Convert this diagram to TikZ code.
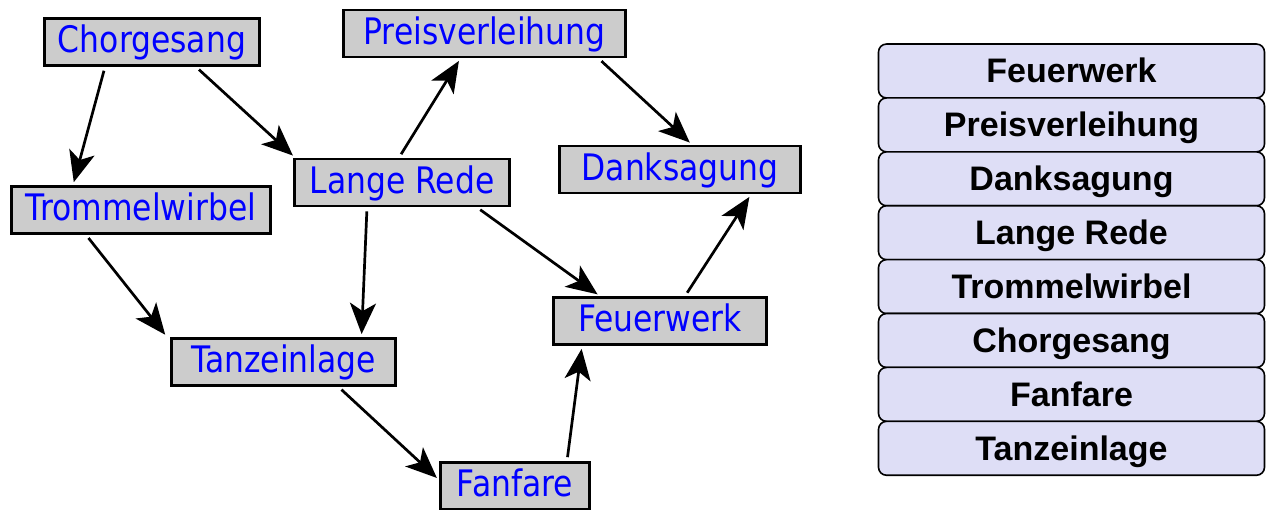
\documentclass[tikz,border=0pt]{standalone}
\usepackage{fontspec}
\usetikzlibrary{arrows.meta}
\newfontfamily\boxfont[FakeStretch=0.86]{DejaVu Sans}
\newfontfamily\rankfont{Liberation Sans}
\definecolor{boxgray}{RGB}{204,204,204}
\definecolor{boxblue}{RGB}{0,0,255}
\definecolor{ranklilac}{RGB}{222,222,246}

\begin{document}
\begin{tikzpicture}[x=1pt,y=-1pt,
  event/.style={draw,line width=2.8pt,fill=boxgray,text=boxblue,inner sep=0pt,
    minimum height=47pt,text height=27pt,text depth=5.4pt,
    font=\boxfont\fontsize{36.5}{40}\selectfont},
  before/.style={line width=2.7pt,-{Stealth[length=31pt,width=26pt,inset=8pt]},
    shorten <=4pt,shorten >=3pt},
  slot/.style={draw,line width=1.6pt,rounded corners=8pt,fill=ranklilac,
    minimum width=386pt,minimum height=53.9pt,inner sep=0pt,
    text height=24pt,text depth=0pt,
    font=\rankfont\bfseries\fontsize{34}{40}\selectfont}]

\useasboundingbox (0,0) rectangle (1266,510);

% the events
\node[event,minimum width=215pt] (chor) at (152,42) {Chorgesang};
\node[event,minimum width=282pt] (preis) at (484.5,33.5) {Preisverleihung};
\node[event,minimum width=259pt] (trom) at (141,210) {Trommelwirbel};
\node[event,minimum width=215pt] (lange) at (402,182.5) {Lange Rede};
\node[event,minimum width=241pt] (dank) at (680,169.5) {Danksagung};
\node[event,minimum width=213pt] (feuer) at (660,321) {Feuerwerk};
\node[event,minimum width=224pt] (tanz) at (283.5,362) {Tanzeinlage};
\node[event,minimum width=149pt] (fanf) at (515,486) {Fanfare};

% what has to come first
\draw[before] ([xshift=-47pt]chor.south) -- ([xshift=-68pt]trom.north);
\draw[before] ([xshift=44pt]chor.south) -- ([xshift=2pt]lange.north west);
\draw[before] ([xshift=-3pt]lange.north) -- ([xshift=-24pt]preis.south);
\draw[before] ([xshift=114pt]preis.south) -- ([xshift=12pt]dank.north);
\draw[before] ([xshift=25pt]feuer.north) -- ([xshift=71pt]dank.south);
\draw[before] ([xshift=75pt]lange.south) -- ([xshift=-60pt]feuer.north);
\draw[before] ([xshift=-55pt]trom.south) -- ([xshift=-3pt]tanz.north west);
\draw[before] ([xshift=-35pt]lange.south) -- ([xshift=78pt]tanz.north);
\draw[before] ([xshift=55pt]tanz.south) -- ([yshift=6pt]fanf.west);
\draw[before] ([xshift=52pt]fanf.north) -- ([xshift=-78pt]feuer.south);

% the order
\foreach \t [count=\i] in {Feuerwerk,Preisverleihung,Danksagung,Lange Rede,Trommelwirbel,Chorgesang,Fanfare,Tanzeinlage}
  \node[slot] (rank\i) at (1071.5,{71+(\i-1)*53.9}) {\t};

\end{tikzpicture}
\end{document}
